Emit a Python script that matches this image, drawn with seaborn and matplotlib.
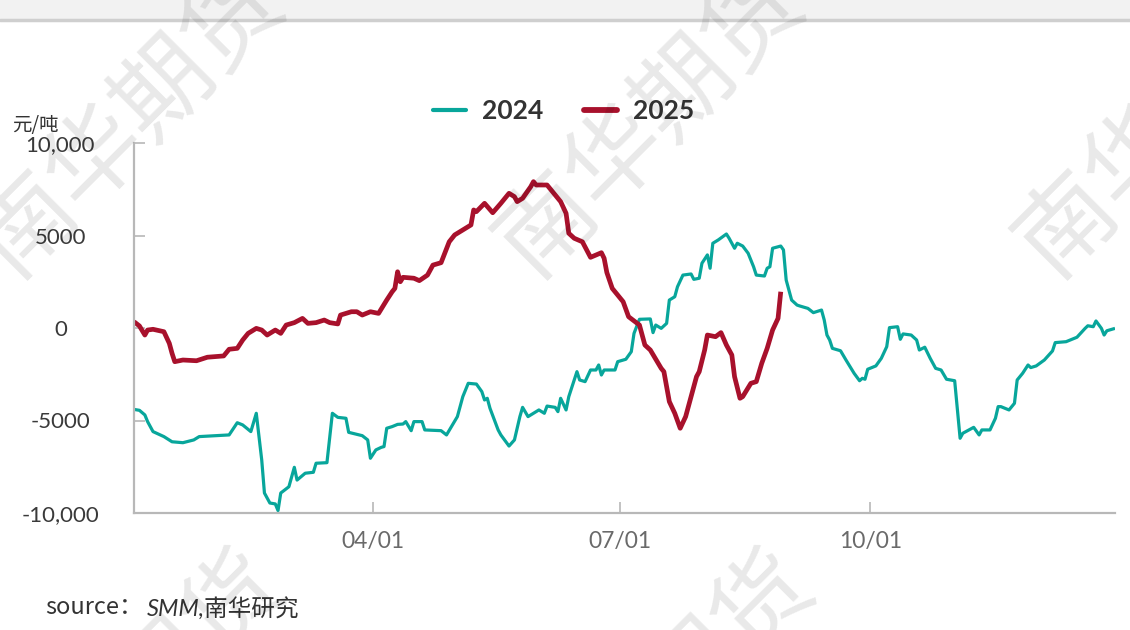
import matplotlib
matplotlib.use("Agg")
import matplotlib.pyplot as plt
from matplotlib.patches import Rectangle
from matplotlib.lines import Line2D
import numpy as np
import pandas as pd
import seaborn as sns

# ---------------- data (day offset from Jan 1, value in 元/吨) ----------------
days_2024 = [2, 4, 6, 7, 9, 13, 16, 20, 24, 26, 37, 40, 42, 45, 47, 49, 50, 52, 54, 55,
             56, 59, 61, 62, 65, 68, 69, 73, 75, 77, 80, 81, 86, 88, 89, 91, 93, 94, 95, 97,
             99, 101, 102, 104, 105, 108, 109, 115, 117, 121, 123, 125, 128, 130, 131, 132, 133, 136, 137, 140,
             142, 144, 145, 147, 151, 153, 154, 157, 158, 159, 161, 162, 165, 166, 168, 170, 172, 173, 174, 175,
             179, 180, 183, 185, 186, 188, 192, 193, 194, 196, 198, 199, 201, 202, 204, 207, 208, 210, 211, 213,
             214, 215, 217, 220, 221, 223, 224, 226, 228, 230, 231, 234, 235, 236, 237, 240, 241, 242, 244, 246,
             247, 250, 252, 255, 256, 257, 258, 259, 262, 264, 267, 269, 270, 271, 272, 275, 277, 279, 280, 283,
             284, 285, 288, 290, 291, 293, 295, 297, 299, 301, 304, 305, 306, 307, 311, 313, 314, 317, 319, 320,
             321, 324, 326, 327, 329, 331, 332, 334, 337, 340, 341, 345, 349, 352, 353, 355, 356, 358, 359, 360,
             363]
vals_2024 = [-4400, -4450, -4700, -5060, -5600, -5870, -6150, -6200, -6050, -5870, -5780, -5120, -5240, -5600, -4610, -7130, -8920, -9460, -9510, -9870,
             -8920, -8580, -7530, -8220, -7850, -7800, -7310, -7280, -4610, -4830, -4880, -5640, -5820, -6050, -7040, -6590, -6450, -6410, -5420, -5330,
             -5210, -5190, -5060, -5550, -5060, -5060, -5510, -5550, -5780, -4790, -3710, -2990, -3030, -3440, -3890, -3800, -4340, -5510, -5780, -6380,
             -6050, -4790, -4290, -4790, -4430, -4610, -4220, -4290, -4520, -3800, -4430, -3710, -2360, -2810, -2900, -2270, -2270, -2000, -2540, -2270,
             -2270, -1820, -1690, -1280, -290, 470, 490, -250, 160, -20, 250, 1510, 1690, 2230, 2860, 2920, 2630, 2690, 3500, 3950,
             3230, 4580, 4760, 5080, 4850, 4310, 4580, 4430, 4040, 3310, 2860, 2810, 3230, 3310, 4310, 4430, 4220, 2590, 1510, 1240,
             1190, 1060, 830, 970, 430, -380, -650, -1100, -1230, -1730, -2450, -2850, -2720, -2770, -2230, -2050, -1640, -1010, 20, 70,
             -610, -320, -380, -650, -1190, -1040, -1640, -2180, -2270, -2770, -2850, -4430, -5960, -5690, -5370, -5780, -5510, -5510, -4880, -4250,
             -4250, -4430, -4070, -2810, -2450, -2000, -2140, -2050, -1730, -1240, -790, -740, -500, -20, 120, 70, 380, -20, -380, -150,
             -20]

days_2025 = [2, 4, 6, 7, 9, 13, 15, 16, 17, 20, 25, 29, 35, 37, 40, 42, 44, 47, 49, 51,
             54, 56, 58, 61, 64, 66, 69, 72, 74, 77, 78, 82, 84, 86, 89, 92, 95, 97, 98, 99,
             100, 101, 105, 107, 110, 112, 115, 118, 120, 123, 126, 127, 128, 131, 134, 137, 140, 142, 143, 145,
             148, 149, 150, 154, 156, 159, 161, 162, 164, 167, 170, 174, 175, 176, 178, 180, 182, 184, 188, 190,
             192, 196, 197, 199, 201, 203, 205, 207, 209, 210, 212, 213, 216, 218, 220, 222, 223, 225, 226, 229,
             231, 233, 235, 237, 239, 240]
vals_2025 = [340, 110, -380, -110, -70, -200, -830, -1370, -1820, -1730, -1770, -1580, -1510, -1150, -1100, -650, -290, -20, -110, -380,
             -110, -290, 160, 290, 520, 250, 290, 430, 290, 220, 700, 880, 880, 700, 880, 790, 1510, 1960, 2140, 3040,
             2500, 2740, 2690, 2560, 2860, 3400, 3530, 4660, 5030, 5300, 5570, 6380, 6290, 6740, 6230, 6740, 7280, 7100, 6830, 7010,
             7640, 7910, 7730, 7730, 7370, 6830, 6200, 5120, 4850, 4660, 3820, 4070, 3770, 3000, 2140, 1780, 1420, 610, 160, -920,
             -1190, -2180, -2360, -3980, -4610, -5420, -4790, -3710, -2630, -2360, -1190, -380, -470, -250, -920, -1460, -2630, -3800, -3710, -2990,
             -2900, -1910, -1100, -110, 520, 1960]

series_names = ["2024", "2025"]
series_colors = ["#08a69b", "#a8112c"]
ytick_values = [-10000, -5000, 0, 5000, 10000]
ytick_labels = ["-10,000", "-5000", "0", "5000", "10,000"]
xtick_dates = ["2025-04-01", "2025-07-01", "2025-10-01"]
xtick_labels = ["04/01", "07/01", "10/01"]
unit_label = "元/吨"
source_prefix = "source："
source_body = "SMM,南华研究"
watermark = "南华期货"

# ---------------- build frame ----------------
base = pd.Timestamp("2025-01-01")
df = pd.concat([
    pd.DataFrame({"date": base + pd.to_timedelta(days_2024, unit="D"), "value": vals_2024, "year": "2024"}),
    pd.DataFrame({"date": base + pd.to_timedelta(days_2025, unit="D"), "value": vals_2025, "year": "2025"}),
], ignore_index=True)

sns.set_theme(style="white")
plt.rcParams["font.family"] = ["Lato", "Noto Sans CJK SC", "DejaVu Sans"]

W, H = 1130, 630
fig = plt.figure(figsize=(W / 100, H / 100), dpi=100)
fig.patch.set_facecolor("white")
ax = fig.add_axes([134 / W, 1 - 513 / H, (1115 - 134) / W, (513 - 143) / H])
ax.set_facecolor("white")

widths = {"2024": 2.3, "2025": 3.4}
for name, col in zip(series_names, series_colors):
    sub = df[df["year"] == name]
    sns.lineplot(data=sub, x="date", y="value", color=col, linewidth=widths[name],
                 ax=ax, legend=False, estimator=None, sort=False,
                 solid_joinstyle="round", solid_capstyle="butt")

ax.set_xlim(df["date"].min(), df["date"].max())
ax.set_ylim(-10000, 10000)
ax.set_xlabel("")
ax.set_ylabel("")

ax.set_yticks(ytick_values)
ax.set_yticklabels(ytick_labels)
ax.set_xticks(pd.to_datetime(xtick_dates))
ax.set_xticklabels(xtick_labels)

for s in ["top", "right"]:
    ax.spines[s].set_visible(False)
for s in ["left", "bottom"]:
    ax.spines[s].set_color("#b8b8b8")
    ax.spines[s].set_linewidth(1.6)

ax.tick_params(axis="y", direction="in", length=8, width=1.2, color="#b8b8b8",
               pad=53, labelsize=16, labelcolor="#3a3a3a", left=True)
ax.tick_params(axis="x", direction="in", length=8, width=1.2, color="#b8b8b8",
               pad=13, labelsize=16.5, labelcolor="#6a6a6a", bottom=True)
for lab in ax.get_yticklabels():
    lab.set_horizontalalignment("center")

# legend
handles = [Line2D([0], [0], color=series_colors[0], lw=3.0),
           Line2D([0], [0], color=series_colors[1], lw=4.2)]
leg = fig.legend(handles, series_names, loc="center", bbox_to_anchor=(0.499, 1 - 111 / H),
                 ncol=2, frameon=False, handlelength=1.25, handletextpad=0.6,
                 columnspacing=1.55, prop={"size": 19, "weight": "bold"})
for t in leg.get_texts():
    t.set_color("#333333")

# unit label
fig.text(12 / W, 1 - 125 / H, unit_label, fontsize=14, color="#333333",
         ha="left", va="center", family=["Noto Sans CJK SC", "DejaVu Sans"])

# source
fig.text(45 / W, 1 - 608 / H, source_prefix, fontsize=17, color="#333333",
         ha="left", va="center", family=["Noto Sans CJK SC", "DejaVu Sans"])
fig.text(147 / W, 1 - 608 / H, source_body, fontsize=17, color="#333333", style="italic",
         ha="left", va="center", family=["Lato", "Noto Sans CJK SC", "DejaVu Sans"])

# top band
fig.patches.append(Rectangle((0, 1 - 19 / H), 1, 19 / H, transform=fig.transFigure,
                             facecolor="#f2f2f2", edgecolor="none", zorder=0))
fig.add_artist(Line2D([0, 1], [1 - 20 / H, 1 - 20 / H], transform=fig.transFigure,
                      color="#cfcfcf", lw=2.5, zorder=1))

# watermarks
for cx, cy in [(130, 122), (650, 122), (1170, 122), (130, 705), (660, 705)]:
    fig.text(cx / W, 1 - cy / H, watermark, fontsize=70, rotation=45, color="black",
             alpha=0.09, ha="center", va="center", rotation_mode="anchor",
             family=["Noto Sans CJK SC"], fontweight="medium", zorder=20)

fig.savefig("out.png", dpi=100)
